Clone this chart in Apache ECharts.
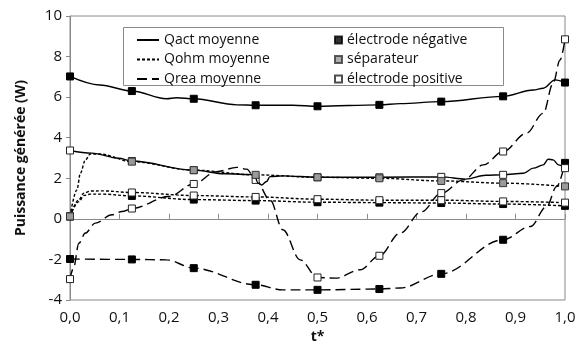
<!DOCTYPE html>
<html><head><meta charset="utf-8">
<script src="https://cdn.jsdelivr.net/npm/echarts@6/dist/echarts.min.js"></script>
<style>html,body{margin:0;padding:0;background:#fff}#c{width:587px;height:350px}</style>
</head><body><div id="c"></div>
<script>
// x ticks and y ticks
const xTicks = [0,0.1,0.2,0.3,0.4,0.5,0.6,0.7,0.8,0.9,1.0];
const yTicks = [-4,-2,0,2,4,6,8,10];

// Qact - électrode négative
const qactNegX = [0,0.06,0.125,0.195,0.215,0.25,0.337,0.375,0.45,0.5,0.625,0.667,0.75,0.875,0.936,0.956,0.98,1.0];
const qactNegY = [7.02,6.6,6.3,5.92,5.97,5.92,5.62,5.6,5.6,5.55,5.62,5.68,5.78,6.04,6.35,6.44,6.85,6.72];
// Qact - électrode positive
const qactPosX = [0,0.044,0.098,0.125,0.25,0.313,0.372,0.38,0.387,0.397,0.404,0.43,0.5,0.625,0.75,0.8,0.84,0.875,0.916,0.936,0.956,0.966,0.976,0.987,1.0];
const qactPosY = [3.37,3.24,2.99,2.85,2.4,2.22,2.18,1.76,1.67,1.84,2.08,2.12,2.05,2.05,2.07,1.96,2.15,2.17,2.25,2.5,2.66,2.94,2.91,2.66,2.5];
// Qohm - séparateur
const qohmSepX = [0,0.014,0.021,0.031,0.041,0.06,0.125,0.25,0.375,0.5,0.625,0.75,0.875,1.0];
const qohmSepY = [0.12,1.43,2.25,2.9,3.2,3.2,2.82,2.4,2.17,2.05,2.0,1.87,1.76,1.6];
// Qohm - électrode positive
const qohmPosX = [0,0.018,0.028,0.041,0.065,0.125,0.25,0.375,0.5,0.625,0.75,0.875,1.0];
const qohmPosY = [0.12,0.94,1.27,1.37,1.38,1.3,1.15,1.08,0.97,0.92,0.92,0.86,0.8];
// Qohm - électrode négative
const qohmNegX = [0,0.018,0.028,0.041,0.065,0.125,0.25,0.375,0.5,0.625,0.75,0.875,1.0];
const qohmNegY = [0.12,0.85,1.15,1.22,1.22,1.13,0.95,0.9,0.82,0.8,0.78,0.73,0.64];
// Qrea - électrode négative
const qreaNegX = [0,0.125,0.195,0.25,0.375,0.43,0.5,0.625,0.667,0.75,0.875,0.93,0.963,0.983,1.0];
const qreaNegY = [-1.98,-2.0,-2.02,-2.43,-3.25,-3.5,-3.5,-3.46,-3.41,-2.71,-1.03,-0.38,0.61,1.59,2.76];
// Qrea - électrode positive
const qreaPosX = [0,0.007,0.018,0.031,0.051,0.085,0.105,0.125,0.2,0.25,0.296,0.337,0.357,0.375,0.404,0.43,0.465,0.5,0.537,0.586,0.625,0.667,0.71,0.75,0.795,0.835,0.875,0.922,0.956,0.976,0.99,1.0];
const qreaPosY = [-2.97,-2.43,-1.2,-0.7,-0.21,0.2,0.36,0.51,1.1,1.72,2.33,2.54,2.45,1.92,0.94,-0.54,-2.02,-2.89,-2.92,-2.51,-1.82,-0.7,0.35,1.27,1.92,2.66,3.32,4.22,5.2,6.68,7.83,8.85];

const legendLines = ['Qact moyenne','Qohm moyenne','Qrea moyenne'];
const legendMarks = ['électrode négative','séparateur','électrode positive'];

const FONT = 'Open Sans';
const TXT = '#111';
const AX = '#8a8a8a';

const markStyle = {
  neg: {color:'#000', borderColor:'#000', borderWidth:1},
  sep: {color:'#9a9a9a', borderColor:'#333', borderWidth:1},
  pos: {color:'#fff', borderColor:'#222', borderWidth:1}
};
const dashes = {act:'solid', ohm:[3,2], rea:[10,5]};

function isMark(x){ return Math.abs(x*8 - Math.round(x*8)) < 1e-6; }
function build(xs, ys){
  return xs.map((x,i)=> isMark(x) ? {value:[x,ys[i]]} : {value:[x,ys[i]], symbol:'none'});
}
function curve(xs, ys, kind, region, z){
  return {
    type:'line', data: build(xs, ys), smooth:0.35, smoothMonotone:'x',
    symbol:'rect', symbolSize:7, showAllSymbol:true,
    lineStyle:{color:'#000', width:1.4, type:dashes[kind]},
    itemStyle: markStyle[region], z:z, silent:true, animation:false
  };
}

const series = [
  curve(qreaNegX, qreaNegY, 'rea', 'neg', 2),
  curve(qreaPosX, qreaPosY, 'rea', 'pos', 2),
  curve(qactNegX, qactNegY, 'act', 'neg', 3),
  curve(qactPosX, qactPosY, 'act', 'pos', 3),
  curve(qohmNegX, qohmNegY, 'ohm', 'neg', 4),
  curve(qohmPosX, qohmPosY, 'ohm', 'pos', 4),
  curve(qohmSepX, qohmSepY, 'ohm', 'sep', 5),
  // legend-only entries
  {type:'line', name:legendLines[0], data:[], symbol:'none', lineStyle:{color:'#000',width:1.5,type:'solid'}, itemStyle:{color:'#000'}},
  {type:'line', name:legendLines[1], data:[], symbol:'none', lineStyle:{color:'#000',width:1.5,type:[3,2]}, itemStyle:{color:'#000'}},
  {type:'line', name:legendLines[2], data:[], symbol:'none', lineStyle:{color:'#000',width:1.5,type:[10,5]}, itemStyle:{color:'#000'}},
  {type:'scatter', name:legendMarks[0], data:[], symbol:'rect', itemStyle:markStyle.neg},
  {type:'scatter', name:legendMarks[1], data:[], symbol:'rect', itemStyle:markStyle.sep},
  {type:'scatter', name:legendMarks[2], data:[], symbol:'rect', itemStyle:markStyle.pos}
];

const chart = echarts.init(document.getElementById('c'), null, {renderer:'canvas'});
chart.setOption({
  animation:false,
  backgroundColor:'#fff',
  textStyle:{fontFamily:FONT},
  grid:{left:70, right:22, top:16, bottom:50, show:true, borderColor:AX, borderWidth:1},
  graphic:[{type:'rect', shape:{x:123.5, y:27.5, width:380, height:58}, style:{fill:'#fff', stroke:AX, lineWidth:1}, z:10}],
  legend:[
    {data:legendLines, orient:'vertical', left:131, top:28, itemWidth:22, itemHeight:12, itemGap:5.5,
     itemStyle:{opacity:0, borderWidth:0},
     textStyle:{fontFamily:FONT, fontSize:14, color:TXT, lineHeight:14}, selectedMode:false, z:20},
    {data:legendMarks, orient:'vertical', left:329, top:28, itemWidth:7, itemHeight:7, itemGap:5.5,
     textStyle:{fontFamily:FONT, fontSize:14, color:TXT, lineHeight:14}, selectedMode:false, z:20}
  ],
  xAxis:{
    type:'value', min:xTicks[0], max:xTicks[xTicks.length-1], interval:0.1,
    name:'t*', nameLocation:'middle', nameGap:30,
    nameTextStyle:{fontFamily:FONT, fontSize:14, fontWeight:'bold', color:TXT},
    axisLine:{show:true, lineStyle:{color:AX}},
    axisTick:{show:true, inside:true, length:5, lineStyle:{color:AX}},
    axisLabel:{fontFamily:FONT, fontSize:15, color:TXT, margin:10,
      formatter:v=>v.toFixed(1).replace('.',',')},
    splitLine:{show:false}
  },
  yAxis:{
    type:'value', min:yTicks[0], max:yTicks[yTicks.length-1], interval:2,
    name:'Puissance générée (W)', nameLocation:'middle', nameGap:42,
    nameTextStyle:{fontFamily:FONT, fontSize:14, fontWeight:'bold', color:TXT},
    axisLine:{show:true, lineStyle:{color:AX}},
    axisTick:{show:true, inside:false, length:4, lineStyle:{color:AX}},
    axisLabel:{fontFamily:FONT, fontSize:15, color:TXT, margin:8},
    splitLine:{show:false}
  },
  series:series
});
</script></body></html>
